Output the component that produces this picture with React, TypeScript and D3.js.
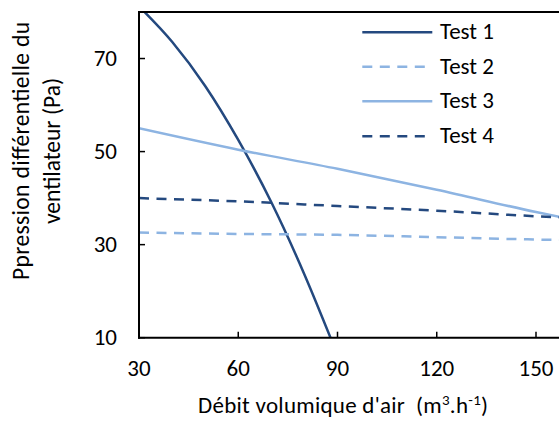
import React from "react";
import * as d3 from "d3";

const xValues = [30, 40, 50, 60, 70, 80, 88];
const test1 = [81.2, 73.6, 64.1, 52.5, 39.1, 23.6, 9.8];
const xLinear = [30, 60, 90, 120, 150, 165];
const test2 = [32.6, 32.3, 32.1, 31.6, 31.1, 30.9];
const test3 = [55.0, 50.4, 46.3, 41.8, 37.0, 34.8];
const test4 = [40.0, 39.3, 38.3, 37.3, 36.1, 35.6];
const xTicks = [30, 60, 90, 120, 150];
const yTicks = [10, 30, 50, 70];
const seriesNames = ["Test 1", "Test 2", "Test 3", "Test 4"];

const DARK = "#24497f";
const LIGHT = "#8db4e2";
const FONT = "Carlito, Calibri, Lato, sans-serif";

export default function App() {
  const W = 559, H = 421;
  const left = 139, top = 12, bottom = 337.7;
  const x = d3.scaleLinear().domain([30, 150]).range([left, 536]);
  const y = d3.scaleLinear().domain([10, 80]).range([bottom, top]);

  const lin = d3.line<[number, number]>().x(d => x(d[0])).y(d => y(d[1])).curve(d3.curveMonotoneX);
  const s1 = lin(xValues.map((v, i) => [v, test1[i]] as [number, number]));
  const s2 = lin(xLinear.map((v, i) => [v, test2[i]] as [number, number]));
  const s3 = lin(xLinear.map((v, i) => [v, test3[i]] as [number, number]));
  const s4 = lin(xLinear.map((v, i) => [v, test4[i]] as [number, number]));

  const series = [
    { name: seriesNames[0], d: s1, color: DARK, dash: undefined },
    { name: seriesNames[1], d: s2, color: LIGHT, dash: "10,7.5" },
    { name: seriesNames[2], d: s3, color: LIGHT, dash: undefined },
    { name: seriesNames[3], d: s4, color: DARK, dash: "10,7.5" },
  ];

  const legendY = [32.3, 66.7, 101.3, 136.3];

  return (
    <svg width={W} height={H} style={{ position: "absolute", left: 0, top: 0, background: "#fff" }} fontFamily={FONT}>
      <defs>
        <clipPath id="plot">
          <rect x={left} y={top} width={W - left} height={bottom - top} />
        </clipPath>
      </defs>
      <g clipPath="url(#plot)">
        {series.map(s => (
          <path key={s.name} d={s.d || ""} fill="none" stroke={s.color} strokeWidth={2.5} strokeDasharray={s.dash} />
        ))}
      </g>
      {/* axes */}
      <line x1={left} x2={left} y1={top - 1} y2={bottom + 1} stroke="#000" strokeWidth={2} />
      <line x1={left - 1} x2={W} y1={bottom} y2={bottom} stroke="#000" strokeWidth={2} />
      <line x1={left - 1} x2={W} y1={top} y2={top} stroke="#000" strokeWidth={2} />
      {yTicks.map(t => (
        <g key={t}>
          <line x1={left} x2={left + 6} y1={y(t)} y2={y(t)} stroke="#000" strokeWidth={1.5} />
          <text x={117} y={y(t) + 7.3} textAnchor="end" fontSize={23} fill="#000">{t}</text>
        </g>
      ))}
      {xTicks.map(t => (
        <g key={t}>
          <line x1={x(t)} x2={x(t)} y1={bottom} y2={bottom - 6} stroke="#000" strokeWidth={1.5} />
          <text x={x(t)} y={376} textAnchor="middle" fontSize={23} fill="#000">{t}</text>
        </g>
      ))}
      {/* legend */}
      {series.map((s, i) => (
        <g key={s.name}>
          <line x1={362.3} x2={432.3} y1={legendY[i]} y2={legendY[i]} stroke={s.color} strokeWidth={2.5} strokeDasharray={s.dash} />
          <text x={440} y={legendY[i] + 7} fontSize={23} fill="#000">{s.name}</text>
        </g>
      ))}
      {/* x title */}
      <text x={198} y={413} fontSize={23} fill="#000" style={{ whiteSpace: "pre" }} textLength={290} lengthAdjust="spacing">
        {"Débit volumique d'air  (m"}
        <tspan dy={-8} fontSize={15}>3</tspan>
        <tspan dy={8}>.h</tspan>
        <tspan dy={-8} fontSize={15}>-1</tspan>
        <tspan dy={8}>)</tspan>
      </text>
      {/* y title */}
      <text transform="translate(28.5,151) rotate(-90)" textAnchor="middle" fontSize={23.5} fill="#000" textLength={258} lengthAdjust="spacing">
        Ppression différentielle du
      </text>
      <text transform="translate(60,151) rotate(-90)" textAnchor="middle" fontSize={23.5} fill="#000">
        ventilateur (Pa)
      </text>
    </svg>
  );
}
